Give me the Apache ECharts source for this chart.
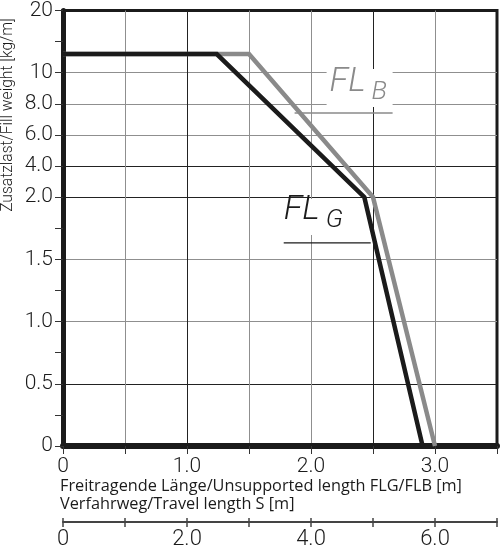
<!DOCTYPE html>
<html>
<head>
<meta charset="utf-8">
<script src="https://cdn.jsdelivr.net/npm/echarts@6/dist/echarts.min.js"></script>
<style>html,body{margin:0;padding:0;background:#fff}</style>
</head>
<body>
<div id="container" style="width:500px;height:555px"></div>
<script>
// y-Achse: nichtlineare Teilung (Wert -> Teilungsschritt)
const yTickValues = [0, 0.5, 1.0, 1.5, 2.0, 4.0, 6.0, 8.0, 10, 20]
const yTickSteps = [0, 2, 4, 6, 8, 9, 10, 11, 12, 14]
const yTickLabels = ['0', '0.5', '1.0', '1.5', '2.0', '4.0', '6.0', '8.0', '10', '20']
// x-Achse: freitragende Länge [m]
const xTickValues = [0, 1, 2, 3]
const xTickLabels = ['0', '1.0', '2.0', '3.0']
// zweite x-Achse: Verfahrweg [m]
const travelTickValues = [0, 2, 4, 6]
const travelTickLabels = ['0', '2.0', '4.0', '6.0']

// FLG (schwarz)
const flgLength = [0, 1.24, 2.43, 2.9]
const flgWeight = [13, 13, 2.0, 0]
// FLB (grau)
const flbLength = [0, 1.5, 2.5, 3.0]
const flbWeight = [13, 13, 2.0, 0]

// Wert in kg/m -> Position auf der Achse
function toStep(v) {
  for (let i = 0; i < yTickValues.length - 1; i++) {
    const a = yTickValues[i], b = yTickValues[i + 1]
    if (v >= a && v <= b) {
      return yTickSteps[i] + (v - a) / (b - a) * (yTickSteps[i + 1] - yTickSteps[i])
    }
  }
  return yTickSteps[yTickSteps.length - 1]
}

const BLACK = '#1b1b1b'
const GREY = '#8a8a8a'
const numFont = 'Roboto'

// Farben der Rasterlinien
const yLineColors = []
for (let s = 0; s <= 14; s++) {
  if ([2, 8, 9].includes(s)) yLineColors.push('#222')
  else if ([4, 6, 10, 11, 12].includes(s)) yLineColors.push('#8f8f8f')
  else yLineColors.push('rgba(0,0,0,0)')
}
const xLineColors = ['rgba(0,0,0,0)', '#8f8f8f', '#222', '#8f8f8f', '#8f8f8f', '#222', '#8f8f8f', 'rgba(0,0,0,0)']

var myChart = echarts.init(document.getElementById('container'))

const option = {
  animation: false,
  grid: [
    { left: 63, right: 2, top: 9, bottom: 109, show: true, borderColor: BLACK, borderWidth: 3, backgroundColor: '#fff' },
    { left: 63, right: 2, top: 521, height: 1 }
  ],
  xAxis: [
    {
      type: 'value', gridIndex: 0, min: 0, max: 3.5, interval: 0.5,
      axisLine: { onZero: false, lineStyle: { color: BLACK, width: 6 } },
      axisTick: { length: 8, lineStyle: { color: '#333', width: 1 } },
      axisLabel: {
        margin: 10, fontFamily: numFont, fontWeight: 300, fontSize: 21, color: BLACK,
        formatter: (v) => {
          const i = xTickValues.indexOf(v)
          return i >= 0 ? xTickLabels[i] : ''
        }
      },
      splitLine: { show: true, lineStyle: { color: xLineColors, width: 1 } }
    },
    {
      type: 'value', gridIndex: 1, position: 'bottom', min: 0, max: 7, interval: 1,
      axisLine: { onZero: false, lineStyle: { color: '#444', width: 2 } },
      axisTick: { length: 5, lineStyle: { color: '#444', width: 1.5 } },
      axisLabel: {
        margin: 6, fontFamily: numFont, fontWeight: 300, fontSize: 22, color: BLACK,
        formatter: (v) => {
          const i = travelTickValues.indexOf(v)
          return i >= 0 ? travelTickLabels[i] : ''
        }
      },
      splitLine: { show: false }
    },
    {
      type: 'value', gridIndex: 1, position: 'top', min: 0, max: 7, interval: 1,
      axisLine: { show: false },
      axisTick: { length: 4, lineStyle: { color: '#444', width: 1.5 } },
      axisLabel: { show: false },
      splitLine: { show: false }
    }
  ],
  yAxis: [
    {
      type: 'value', gridIndex: 0, min: 0, max: 14, interval: 1,
      axisLine: { onZero: false, lineStyle: { color: BLACK, width: 5 } },
      axisTick: { length: 8, lineStyle: { color: '#333', width: 1 } },
      axisLabel: {
        margin: 10, fontFamily: numFont, fontWeight: 300, fontSize: 21, color: BLACK,
        formatter: (v) => {
          const i = yTickSteps.indexOf(v)
          return i >= 0 ? yTickLabels[i] : ''
        }
      },
      splitLine: { show: true, lineStyle: { color: yLineColors, width: 1 } }
    },
    { type: 'value', gridIndex: 1, min: 0, max: 1, show: false }
  ],
  series: [
    {
      name: 'FLB', type: 'line', xAxisIndex: 0, yAxisIndex: 0, symbol: 'none', z: 3,
      lineStyle: { color: GREY, width: 4.5, join: 'miter' },
      data: flbLength.map((x, i) => [x, toStep(flbWeight[i])])
    },
    {
      name: 'FLG', type: 'line', xAxisIndex: 0, yAxisIndex: 0, symbol: 'none', z: 4,
      lineStyle: { color: BLACK, width: 4.5, join: 'miter' },
      data: flgLength.map((x, i) => [x, toStep(flgWeight[i])])
    }
  ]
}
myChart.setOption(option)

// Beschriftungen FL_B / FL_G an Datenpunkten verankert
const pB = myChart.convertToPixel({ gridIndex: 0 }, [2.15, toStep(10.1)])
const pG = myChart.convertToPixel({ gridIndex: 0 }, [1.78, toStep(1.97)])
const flFont = 'italic 300 34px Roboto'
const subFont = 'italic 300 26px Roboto'

myChart.setOption({
  graphic: [
    {
      type: 'text', x: 8, y: 115, rotation: Math.PI / 2,
      style: { text: 'Zusatzlast/Fill weight [kg/m]', font: '300 15.6px Roboto', fill: BLACK, align: 'center', verticalAlign: 'middle' }
    },
    {
      type: 'text', x: 60, y: 477,
      style: {
        text: 'Freitragende Länge/Unsupported length FLG/FLB [m]\nVerfahrweg/Travel length S [m]',
        font: '16.3px "Open Sans"', lineHeight: 18, fill: BLACK, align: 'left', verticalAlign: 'top'
      }
    },
    // FL_B
    { type: 'rect', z: 10, shape: { x: pB[0] - 3, y: pB[1] - 3, width: 66, height: 38 }, style: { fill: '#fff' } },
    { type: 'line', z: 11, shape: { x1: pB[0] - 35, y1: pB[1] + 41, x2: pB[0] + 63, y2: pB[1] + 41 }, style: { stroke: GREY, lineWidth: 1.5 } },
    { type: 'text', z: 11, x: pB[0], y: pB[1] - 7, style: { text: 'FL', font: flFont, fill: GREY, verticalAlign: 'top' } },
    { type: 'text', z: 11, x: pB[0] + 42, y: pB[1] + 7, style: { text: 'B', font: subFont, fill: GREY, verticalAlign: 'top' } },
    // FL_G
    { type: 'rect', z: 10, shape: { x: pG[0] - 3, y: pG[1] - 2, width: 66, height: 36 }, style: { fill: '#fff' } },
    { type: 'line', z: 11, shape: { x1: pG[0], y1: pG[1] + 42, x2: pG[0] + 87, y2: pG[1] + 42 }, style: { stroke: BLACK, lineWidth: 1.2 } },
    { type: 'text', z: 11, x: pG[0], y: pG[1] - 7, style: { text: 'FL', font: flFont, fill: BLACK, verticalAlign: 'top' } },
    { type: 'text', z: 11, x: pG[0] + 42, y: pG[1] + 7, style: { text: 'G', font: subFont, fill: BLACK, verticalAlign: 'top' } }
  ]
})
</script>
</body>
</html>
